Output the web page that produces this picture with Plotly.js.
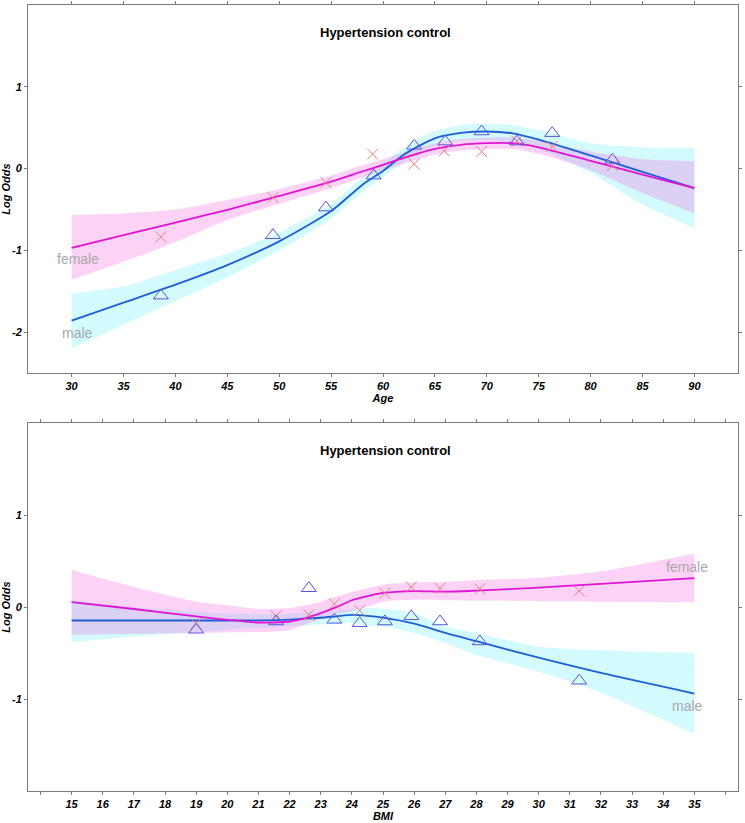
<!DOCTYPE html>
<html>
<head>
<meta charset="utf-8">
<script src="https://cdn.plot.ly/plotly-3.0.1.min.js"></script>
<style>html,body{margin:0;padding:0;background:#fff;}#chart{width:745px;height:823px;}</style>
</head>
<body>
<div id="chart"></div>
<script>
// ---------- Age panel ----------
var ageGrid      = [30, 35, 40, 45, 50, 55, 58, 60, 62, 65, 67.5, 70, 72.5, 75, 80, 85, 90];
var ageFemale    = [-0.97, -0.815, -0.66, -0.505, -0.335, -0.16, -0.036, 0.045, 0.13, 0.24, 0.29, 0.31, 0.31, 0.26, 0.095, -0.075, -0.24];
var ageFemaleUp  = [-0.567, -0.545, -0.50, -0.385, -0.25, -0.085, 0.04, 0.115, 0.20, 0.31, 0.36, 0.38, 0.38, 0.34, 0.21, 0.115, 0.09];
var ageFemaleLo  = [-1.36, -1.14, -0.90, -0.63, -0.43, -0.24, -0.11, -0.025, 0.06, 0.17, 0.22, 0.24, 0.24, 0.18, -0.02, -0.30, -0.55];
var ageMale      = [-1.86, -1.64, -1.42, -1.18, -0.89, -0.52, -0.20, -0.03, 0.17, 0.37, 0.435, 0.453, 0.43, 0.355, 0.16, -0.04, -0.24];
var ageMaleUp    = [-1.525, -1.44, -1.24, -1.04, -0.78, -0.43, -0.11, 0.06, 0.26, 0.46, 0.53, 0.55, 0.53, 0.47, 0.31, 0.26, 0.25];
var ageMaleLo    = [-2.198, -1.91, -1.62, -1.33, -1.00, -0.61, -0.29, -0.11, 0.08, 0.28, 0.34, 0.35, 0.32, 0.24, -0.05, -0.44, -0.73];
var ageObsX      = [38.6, 49.4, 54.5, 59.0, 63.0, 65.9, 69.5, 72.9, 76.3, 82.1];
var ageObsFemale = [-0.836, -0.355, -0.171, 0.176, 0.054, 0.217, 0.208, 0.335, 0.27, 0.037];
var ageObsMaleX  = [38.6, 49.4, 54.5, 59.1, 63.0, 66.0, 69.5, 72.9, 76.3, 82.1];
var ageObsMale   = [-1.554, -0.815, -0.477, -0.086, 0.278, 0.33, 0.453, 0.33, 0.433, 0.106];
var ageTicks     = [30, 35, 40, 45, 50, 55, 60, 65, 70, 75, 80, 85, 90];
var ageYTicks    = [-2, -1, 0, 1];
var ageYTickText = ['-2', '-1', '0', '1'];

// ---------- BMI panel ----------
var bmiGrid      = [15, 17, 19, 20, 21, 22, 22.5, 23, 23.5, 24, 24.5, 25, 26, 27, 28, 30, 32, 35];
var bmiFemale    = [0.054, -0.02, -0.10, -0.138, -0.167, -0.156, -0.12, -0.065, 0.0, 0.075, 0.12, 0.155, 0.175, 0.168, 0.18, 0.213, 0.253, 0.315];
var bmiFemaleUp  = [0.405, 0.22, 0.06, 0.02, -0.02, -0.01, 0.02, 0.06, 0.115, 0.165, 0.206, 0.245, 0.27, 0.275, 0.295, 0.32, 0.39, 0.585];
var bmiFemaleLo  = [-0.30, -0.29, -0.28, -0.275, -0.27, -0.25, -0.19, -0.13, -0.083, -0.04, 0.007, 0.06, 0.08, 0.075, 0.072, 0.065, 0.06, 0.054];
var bmiMale      = [-0.145, -0.145, -0.145, -0.145, -0.143, -0.135, -0.125, -0.115, -0.10, -0.085, -0.095, -0.115, -0.18, -0.28, -0.37, -0.55, -0.716, -0.94];
var bmiMaleUp    = [0.08, 0.0, -0.05, -0.07, -0.075, -0.07, -0.06, -0.05, -0.035, -0.02, -0.01, -0.02, -0.065, -0.21, -0.28, -0.43, -0.47, -0.50];
var bmiMaleLo    = [-0.38, -0.32, -0.27, -0.245, -0.225, -0.21, -0.20, -0.19, -0.18, -0.17, -0.20, -0.21, -0.28, -0.39, -0.52, -0.70, -0.93, -1.38];
var bmiObsX      = [19.0, 21.57, 22.62, 23.44, 24.25, 25.06, 25.91, 26.83, 28.11, 31.3];
var bmiObsFemale = [-0.18, -0.094, -0.083, 0.036, -0.036, 0.15, 0.22, 0.205, 0.20, 0.177];
var bmiObsMale   = [-0.246, -0.156, 0.206, -0.138, -0.174, -0.156, -0.10, -0.156, -0.373, -0.80];
var bmiTicks     = [14, 15, 16, 17, 18, 19, 20, 21, 22, 23, 24, 25, 26, 27, 28, 29, 30, 31, 32, 33, 34, 35, 36];
var bmiTickText  = ['', '15', '16', '17', '18', '19', '20', '21', '22', '23', '24', '25', '26', '27', '28', '29', '30', '31', '32', '33', '34', '35', ''];
var bmiYTicks    = [-1, 0, 1];
var bmiYTickText = ['-1', '0', '1'];

var titleText = 'Hypertension control';

// ---------- styles ----------
var FEMALE_LINE = '#e014d4', MALE_LINE = '#1f5fd6';
var FEMALE_FILL = 'rgba(245,110,230,0.30)', MALE_FILL = 'rgba(150,245,250,0.42)';
var FEMALE_MK = '#f07a7a', MALE_MK = '#5a52d8';
var FONT = 'Liberation Sans, Arial, sans-serif';

function band(x, lo, up, color, xa, ya) {
  return [
    {x: x, y: lo, xaxis: xa, yaxis: ya, mode: 'lines', line: {width: 0, shape: 'spline', smoothing: 0.7}, hoverinfo: 'skip', showlegend: false},
    {x: x, y: up, xaxis: xa, yaxis: ya, mode: 'lines', fill: 'tonexty', fillcolor: color, line: {width: 0, shape: 'spline', smoothing: 0.7}, hoverinfo: 'skip', showlegend: false}
  ];
}
function curve(x, y, color, xa, ya) {
  return {x: x, y: y, xaxis: xa, yaxis: ya, mode: 'lines', line: {color: color, width: 1.8, shape: 'spline', smoothing: 0.7}, showlegend: false};
}
function pts(x, y, sym, color, size, xa, ya) {
  return {x: x, y: y, xaxis: xa, yaxis: ya, mode: 'markers', marker: {symbol: sym, size: size, color: color, line: {color: color, width: 1}}, showlegend: false};
}

var traces = []
  .concat(band(ageGrid, ageMaleLo, ageMaleUp, MALE_FILL, 'x', 'y'))
  .concat(band(ageGrid, ageFemaleLo, ageFemaleUp, FEMALE_FILL, 'x', 'y'))
  .concat([curve(ageGrid, ageMale, MALE_LINE, 'x', 'y'), curve(ageGrid, ageFemale, FEMALE_LINE, 'x', 'y'),
           pts(ageObsX, ageObsFemale, 'x-thin-open', FEMALE_MK, 11, 'x', 'y'),
           pts(ageObsMaleX, ageObsMale, 'triangle-up-open', MALE_MK, 13, 'x', 'y')])
  .concat(band(bmiGrid, bmiMaleLo, bmiMaleUp, MALE_FILL, 'x2', 'y2'))
  .concat(band(bmiGrid, bmiFemaleLo, bmiFemaleUp, FEMALE_FILL, 'x2', 'y2'))
  .concat([curve(bmiGrid, bmiMale, MALE_LINE, 'x2', 'y2'), curve(bmiGrid, bmiFemale, FEMALE_LINE, 'x2', 'y2'),
           pts(bmiObsX, bmiObsFemale, 'x-thin-open', FEMALE_MK, 11, 'x2', 'y2'),
           pts(bmiObsX, bmiObsMale, 'triangle-up-open', MALE_MK, 13, 'x2', 'y2')]);

var tickFont = {family: FONT, size: 11, color: '#000', weight: 'bold', style: 'italic'};
function axisBase() {
  return {showline: true, linecolor: '#7a7a7a', linewidth: 1, mirror: 'ticks', ticks: 'outside', ticklen: 3,
          tickcolor: '#7a7a7a', tickwidth: 1, showgrid: false, zeroline: false, tickfont: tickFont, fixedrange: true};
}
var xa1 = Object.assign(axisBase(), {domain: [0, 1], anchor: 'y', range: [25.8, 94.2], tickmode: 'array', tickvals: ageTicks,
  title: {text: 'Age', font: tickFont, standoff: 0}});
var ya1 = Object.assign(axisBase(), {domain: [0.5318, 1], anchor: 'x', range: [-2.5, 2.0], tickmode: 'array', tickvals: ageYTicks, ticktext: ageYTickText,
  title: {text: 'Log Odds', font: tickFont, standoff: 2}});
var xa2 = Object.assign(axisBase(), {domain: [0, 1], anchor: 'y2', range: [13.6, 36.4], tickmode: 'array', tickvals: bmiTicks, ticktext: bmiTickText,
  title: {text: 'BMI', font: tickFont, standoff: 0}});
var ya2 = Object.assign(axisBase(), {domain: [0, 0.4678], anchor: 'x2', range: [-2, 2], tickmode: 'array', tickvals: bmiYTicks, ticktext: bmiYTickText,
  title: {text: 'Log Odds', font: tickFont, standoff: 2}});

var grayFont = {family: FONT, size: 14, color: '#a9a9a9'};
var layout = {
  width: 745, height: 823, showlegend: false,
  paper_bgcolor: '#fff', plot_bgcolor: '#fff',
  margin: {l: 28, r: 7, t: 5, b: 32},
  xaxis: xa1, yaxis: ya1, xaxis2: xa2, yaxis2: ya2,
  annotations: [
    {text: titleText, xref: 'paper', yref: 'paper', x: 0.504, y: 0.9644, xanchor: 'center', yanchor: 'middle', showarrow: false,
     font: {family: FONT, size: 13, color: '#000', weight: 'bold'}},
    {text: titleText, xref: 'paper', yref: 'paper', x: 0.504, y: 0.4326, xanchor: 'center', yanchor: 'middle', showarrow: false,
     font: {family: FONT, size: 13, color: '#000', weight: 'bold'}},
    {text: 'female', xref: 'x', yref: 'y', x: 30.6, y: -1.105, showarrow: false, font: grayFont},
    {text: 'male', xref: 'x', yref: 'y', x: 30.6, y: -2.01, showarrow: false, font: grayFont},
    {text: 'female', xref: 'x2', yref: 'y2', x: 34.77, y: 0.437, showarrow: false, font: grayFont},
    {text: 'male', xref: 'x2', yref: 'y2', x: 34.78, y: -1.07, showarrow: false, font: grayFont}
  ]
};

Plotly.newPlot('chart', traces, layout, {staticPlot: true, displayModeBar: false});
</script>
</body>
</html>
